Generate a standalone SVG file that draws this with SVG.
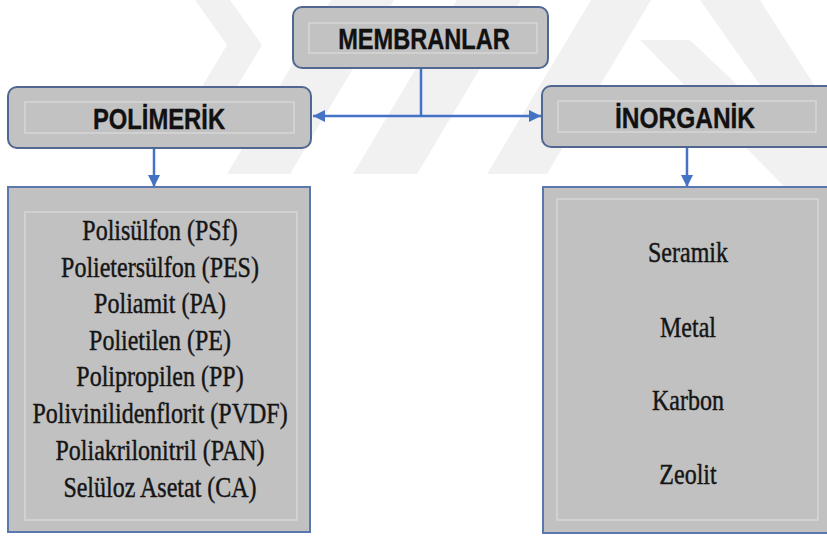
<svg xmlns="http://www.w3.org/2000/svg" width="827" height="536" viewBox="0 0 827 536">
<defs>
<style>
.wm{fill:#f1f1f1;}
.hbox{fill:#c2c2c2;stroke:#4f6791;stroke-width:2;}
.lbox{fill:#c1c1c1;stroke:#5a78ad;stroke-width:2;}
.inner{fill:none;stroke:#d6d6d6;stroke-width:1.5;}
.ht{font-family:"Liberation Sans",Arial,sans-serif;font-weight:bold;fill:#111;text-anchor:middle;stroke:#111;stroke-width:0.3;}
.lt{font-family:"Liberation Serif","Times New Roman","DejaVu Serif",serif;fill:#151515;text-anchor:middle;font-size:24px;stroke:#151515;stroke-width:0.35;}
.con{stroke:#4472c4;stroke-width:2.5;fill:none;}
</style>
<marker id="ah" markerUnits="userSpaceOnUse" markerWidth="14" markerHeight="14" refX="12" refY="7" orient="auto">
<path d="M0,1 L12,7 L0,13 Z" fill="#4472c4"/>
</marker>
</defs>
<rect x="0" y="0" width="827" height="536" fill="#ffffff"/>
<g id="watermark">
<polygon class="wm" points="195,0 230,0 262,45 235,90 200,90 227,45"/>
<polygon class="wm" points="227,174 290,174 394,0 331,0"/>
<polygon class="wm" points="353,174 417,174 521,0 457,0"/>
<polygon class="wm" points="487,174 547,174 651,0 591,0"/>
<polygon class="wm" points="640,40 690,40 827,170 827,230"/>
<polygon class="wm" points="700,0 760,0 827,105 827,180"/>
</g>
<g id="connectors">
<path class="con" d="M421,68 V116"/>
<path class="con" d="M421,116 H313" marker-end="url(#ah)"/>
<path class="con" d="M421,116 H541" marker-end="url(#ah)"/>
<path class="con" d="M154,148 V187" marker-end="url(#ah)"/>
<path class="con" d="M687,148 V187" marker-end="url(#ah)"/>
</g>
<g id="membranlar">
<rect class="hbox" x="293" y="7" width="255" height="61" rx="9"/>
<rect class="inner" x="309" y="23" width="228" height="30"/>
<text class="ht" font-size="23.6" transform="translate(424,49) scale(1,1.22)">MEMBRANLAR</text>
</g>
<g id="polimerik">
<rect class="hbox" x="8" y="87" width="303" height="61" rx="9"/>
<rect class="inner" x="25" y="102" width="269" height="31"/>
<text class="ht" font-size="23.8" transform="translate(159,129) scale(1,1.22)">POLİMERİK</text>
</g>
<g id="inorganik">
<rect class="hbox" x="542" y="86" width="300" height="61" rx="9"/>
<rect class="inner" x="558" y="101" width="258" height="31"/>
<text class="ht" font-size="24.5" transform="translate(685,128) scale(1,1.2)">İNORGANİK</text>
</g>
<g id="polimer-list">
<rect class="lbox" x="8" y="187" width="302" height="345"/>
<rect class="inner" x="25" y="212" width="272" height="308"/>
<text class="lt" transform="translate(160,240) scale(1,1.27)">Polisülfon (PSf)</text>
<text class="lt" transform="translate(160,277) scale(1,1.27)">Polietersülfon (PES)</text>
<text class="lt" transform="translate(160,313) scale(1,1.27)">Poliamit (PA)</text>
<text class="lt" transform="translate(160,350) scale(1,1.27)">Polietilen (PE)</text>
<text class="lt" transform="translate(160,386) scale(1,1.27)">Polipropilen (PP)</text>
<text class="lt" transform="translate(160,423) scale(1,1.27)">Polivinilidenflorit (PVDF)</text>
<text class="lt" transform="translate(160,460) scale(1,1.27)">Poliakrilonitril (PAN)</text>
<text class="lt" transform="translate(160,497) scale(1,1.27)">Selüloz Asetat (CA)</text>
</g>
<g id="inorganik-list">
<rect class="lbox" x="543" y="187" width="300" height="346"/>
<rect class="inner" x="557" y="199" width="261" height="321"/>
<text class="lt" font-size="23.5" transform="translate(688,262) scale(1,1.27)">Seramik</text>
<text class="lt" font-size="23.5" transform="translate(688,337) scale(1,1.27)">Metal</text>
<text class="lt" font-size="23.5" transform="translate(688,410) scale(1,1.27)">Karbon</text>
<text class="lt" font-size="23.5" transform="translate(688,484) scale(1,1.27)">Zeolit</text>
</g>
</svg>
